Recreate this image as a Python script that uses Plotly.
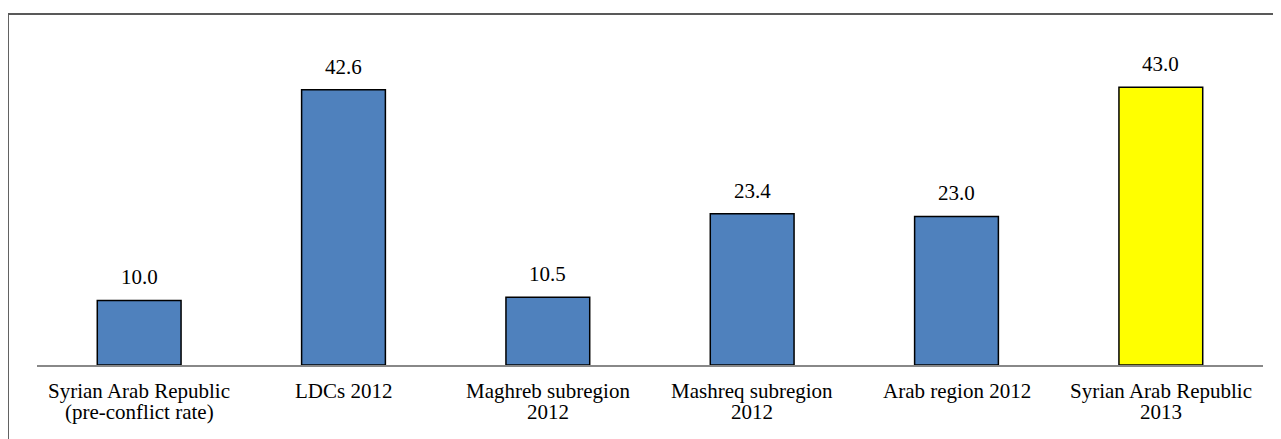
import plotly.graph_objects as go

# Chart data
categories = [
    "Syrian Arab Republic<br>(pre-conflict rate)",
    "LDCs 2012",
    "Maghreb subregion<br>2012",
    "Mashreq subregion<br>2012",
    "Arab region 2012",
    "Syrian Arab Republic<br>2013",
]
values = [10.0, 42.6, 10.5, 23.4, 23.0, 43.0]
bar_colors = ["#4F81BD", "#4F81BD", "#4F81BD", "#4F81BD", "#4F81BD", "#FFFF00"]

FONT = "Liberation Serif"

fig = go.Figure()

fig.add_trace(go.Bar(
    x=categories,
    y=values,
    width=0.41,
    marker=dict(color=bar_colors, line=dict(color="black", width=1.5)),
    hoverinfo="x+y",
))

# value labels above bars
for cat, val in zip(categories, values):
    fig.add_annotation(
        x=cat, y=val, text=f"{val:.1f}", showarrow=False,
        yanchor="bottom", yshift=9,
        font=dict(family=FONT, size=21, color="black"),
    )

# category labels, one annotation per line so the line spacing stays tight
for cat in categories:
    for i, line in enumerate(cat.split("<br>")):
        fig.add_annotation(
            x=cat, y=0, yref="paper", text=line, showarrow=False,
            yanchor="middle", yshift=-26 - 21 * i,
            font=dict(family=FONT, size=21, color="black"),
        )

# outer chart border (only top and left edges fall inside the picture)
fig.add_shape(
    type="rect", xref="paper", yref="paper",
    x0=-0.0237, x1=1.1, y0=-0.5, y1=1.0867,
    line=dict(color="#595959", width=2),
    layer="below",
)

# page body has an 8px margin, so margins are trimmed to keep the plot area in place
fig.update_layout(
    width=1281, height=439,
    margin=dict(l=29, r=26, t=34, b=82),
    paper_bgcolor="white", plot_bgcolor="white",
    showlegend=False,
    font=dict(family=FONT, size=21, color="black"),
    xaxis=dict(
        showticklabels=False, ticks="", showgrid=False,
        showline=True, linecolor="#888888", linewidth=2,
        zeroline=False,
    ),
    yaxis=dict(
        range=[0, 50], visible=False, showgrid=False, zeroline=False,
    ),
)

fig.write_html("out.html")
